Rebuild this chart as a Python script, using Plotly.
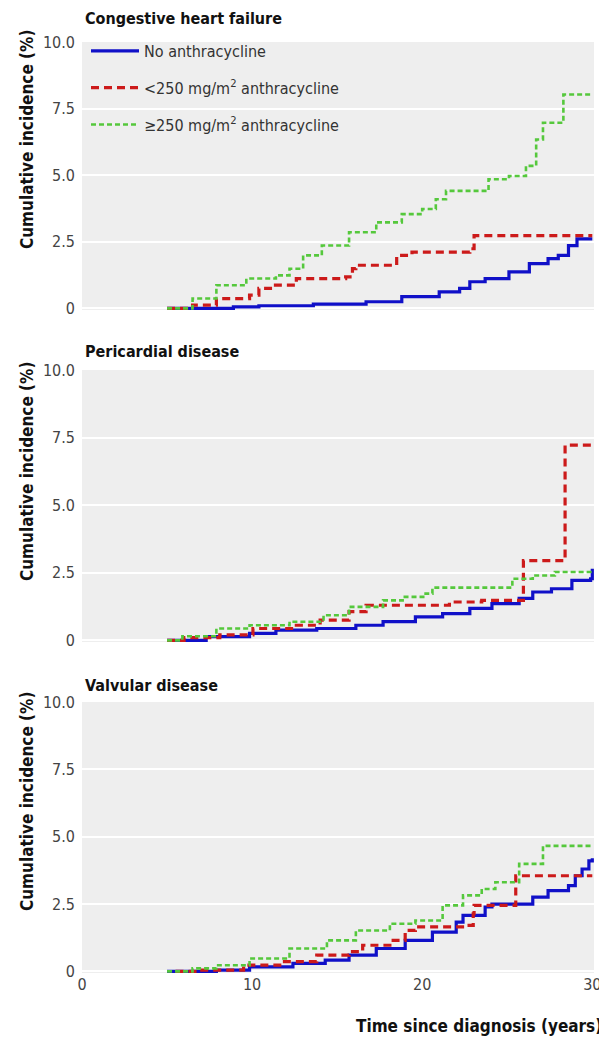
import plotly.graph_objects as go

# ---------------- data ----------------
panel_titles = ["Congestive heart failure", "Pericardial disease", "Valvular disease"]
y_title = "Cumulative incidence (%)"
x_title = "Time since diagnosis (years)"
series_names = ["No anthracycline",
                "&lt;250 mg/m<sup>2</sup> anthracycline",
                "≥250 mg/m<sup>2</sup> anthracycline"]

# Congestive heart failure
chf_none_t = [5.0, 8.9, 10.4, 13.6, 16.7, 18.8, 21.0, 22.2, 22.8, 23.7, 25.1, 26.3, 27.4, 28.0, 28.6, 29.1, 30.0]
chf_none_v = [0.0, 0.06, 0.10, 0.16, 0.25, 0.44, 0.62, 0.75, 1.00, 1.12, 1.37, 1.68, 1.87, 1.99, 2.36, 2.61, 2.61]
chf_low_t = [5.0, 6.3, 6.5, 7.9, 9.85, 10.4, 11.2, 12.6, 15.5, 15.9, 16.1, 18.5, 19.4, 22.8, 23.05, 30.0]
chf_low_v = [0.0, 0.07, 0.12, 0.37, 0.50, 0.75, 0.87, 1.12, 1.18, 1.49, 1.62, 1.99, 2.11, 2.24, 2.73, 2.73]
chf_high_t = [5.0, 6.5, 7.9, 9.66, 11.4, 12.2, 13.0, 14.1, 15.7, 17.3, 18.8, 20.0, 20.8, 21.4, 23.9, 25.1, 26.1, 26.7, 27.1, 28.3, 30.0]
chf_high_v = [0.0, 0.37, 0.87, 1.12, 1.24, 1.49, 1.99, 2.36, 2.86, 3.23, 3.54, 3.73, 4.10, 4.41, 4.85, 4.97, 5.35, 6.34, 6.97, 8.03, 8.03]

# Pericardial disease
per_none_t = [5.0, 7.3, 9.85, 11.4, 13.8, 16.1, 17.7, 19.6, 21.2, 22.8, 24.1, 25.7, 26.5, 27.6, 28.8, 29.9, 30.0]
per_none_v = [0.0, 0.14, 0.26, 0.38, 0.44, 0.56, 0.69, 0.87, 0.99, 1.18, 1.36, 1.55, 1.79, 1.91, 2.22, 2.28, 2.65]
per_low_t = [5.0, 6.0, 8.1, 10.05, 12.6, 14.0, 15.7, 16.7, 21.6, 23.5, 25.95, 28.4, 30.0]
per_low_v = [0.0, 0.10, 0.20, 0.44, 0.56, 0.75, 1.06, 1.30, 1.42, 1.48, 2.95, 7.22, 7.22]
per_high_t = [5.0, 5.9, 7.9, 9.85, 12.2, 14.2, 15.7, 17.7, 18.85, 20.2, 20.6, 25.3, 26.5, 27.8, 30.0]
per_high_v = [0.0, 0.15, 0.44, 0.56, 0.69, 0.93, 1.24, 1.48, 1.61, 1.73, 1.95, 2.28, 2.40, 2.53, 2.53]

# Valvular disease
val_none_t = [5.0, 7.9, 9.85, 12.4, 14.3, 15.7, 17.3, 19.0, 20.6, 22.0, 22.4, 23.7, 24.1, 26.5, 27.4, 28.6, 29.0, 29.4, 29.8, 30.0]
val_none_v = [0.0, 0.05, 0.17, 0.30, 0.42, 0.60, 0.85, 1.15, 1.46, 1.83, 2.08, 2.39, 2.50, 2.76, 3.00, 3.18, 3.55, 3.80, 4.10, 4.20]
val_low_t = [5.5, 6.9, 9.5, 11.8, 13.8, 15.7, 16.5, 18.1, 19.0, 19.6, 22.6, 23.0, 23.05, 25.5, 30.0]
val_low_v = [0.0, 0.05, 0.23, 0.36, 0.60, 0.73, 0.97, 1.15, 1.52, 1.65, 1.71, 2.14, 2.45, 3.55, 3.55]
val_high_t = [5.0, 6.5, 7.9, 9.85, 12.2, 14.4, 16.1, 18.1, 19.6, 21.2, 22.4, 23.5, 24.3, 25.7, 27.1, 30.0]
val_high_v = [0.0, 0.11, 0.23, 0.48, 0.85, 1.15, 1.52, 1.77, 1.89, 2.45, 2.82, 3.06, 3.31, 3.99, 4.66, 4.66]

x_ticks = [0, 10, 20, 30]
y_ticks = [0, 2.5, 5.0, 7.5, 10.0]
y_tick_labels = ["0", "2.5", "5.0", "7.5", "10.0"]

panels = [
    [(chf_none_t, chf_none_v), (chf_low_t, chf_low_v), (chf_high_t, chf_high_v)],
    [(per_none_t, per_none_v), (per_low_t, per_low_v), (per_high_t, per_high_v)],
    [(val_none_t, val_none_v), (val_low_t, val_low_v), (val_high_t, val_high_v)],
]

# ---------------- style ----------------
FONT = "DejaVu Sans Condensed, Roboto, sans-serif"
line_styles = [
    dict(color="#1010c8", width=3.2, dash="solid"),
    dict(color="#cc1a1a", width=3.2, dash="8px,5px"),
    dict(color="#55c83c", width=2.6, dash="5px,3px"),
]

# page has an 8px body margin: figure px = page px - OFF
OFF = 8
W, H = 607 - OFF, 1037 - OFF
ML, MR, MT, MB = 82 - OFF, 13, 42 - OFF, 64
plot_h = H - MT - MB
plot_w = W - ML - MR

def fy(page_y):  # page px -> paper y
    return (H - MB - (page_y - OFF)) / plot_h

def fx(page_x):  # page px -> paper x
    return ((page_x - OFF) - ML) / plot_w

domains = [[fy(310), fy(42)], [fy(642), fy(370)], [fy(973), fy(702)]]
title_px = [18, 351, 685]
ytitle_px = [140, 472, 802]

fig = go.Figure()
for i, panel in enumerate(panels):
    xa = "x" if i == 0 else f"x{i+1}"
    ya = "y" if i == 0 else f"y{i+1}"
    for j, (t, v) in enumerate(panel):
        fig.add_trace(go.Scatter(
            x=t, y=v, mode="lines", line=dict(shape="hv", **line_styles[j]),
            name=series_names[j], showlegend=(i == 0), legendgroup=f"g{j}",
            xaxis=xa, yaxis=ya, hoverinfo="skip"))

layout = dict(
    width=W, height=H, paper_bgcolor="white", plot_bgcolor="#eeeeee",
    margin=dict(l=ML, r=MR, t=MT, b=MB, autoexpand=False),
    font=dict(family=FONT, color="#333333", size=15),
    showlegend=True,
    legend=dict(x=fx(86), y=fy(34), xanchor="left", yanchor="top", bgcolor="rgba(0,0,0,0)",
                font=dict(family=FONT, size=16, color="#333333"), tracegroupgap=13,
                itemwidth=48),
)
for i in range(3):
    sfx = "" if i == 0 else str(i + 1)
    anchor = "y" if i == 0 else f"y{i+1}"
    xanchor_ax = "x" if i == 0 else f"x{i+1}"
    layout["xaxis" + sfx] = dict(
        domain=[0, 1], range=[0, 30.1], anchor=anchor, tickvals=x_ticks,
        showticklabels=(i == 2), showgrid=False, zeroline=False, ticks="",
        tickfont=dict(size=16, color="#444444"), fixedrange=True, automargin=False)
    layout["yaxis" + sfx] = dict(
        domain=domains[i], range=[-0.06, 10.0], anchor=xanchor_ax,
        tickvals=y_ticks, ticktext=y_tick_labels, showgrid=True,
        gridcolor="white", gridwidth=2, zeroline=False, ticks="",
        tickfont=dict(size=16, color="#444444"), ticklabelstandoff=6,
        fixedrange=True, automargin=False)

annotations = []
for i, tt in enumerate(panel_titles):
    annotations.append(dict(
        text=f"<b>{tt}</b>", x=fx(83), y=fy(title_px[i]),
        xref="paper", yref="paper", xanchor="left", yanchor="middle",
        showarrow=False, font=dict(family=FONT, size=16, color="#111111")))
    annotations.append(dict(
        text=f"<b>{y_title}</b>", x=fx(27), y=fy(ytitle_px[i]), textangle=-90,
        xref="paper", yref="paper", xanchor="center", yanchor="middle",
        showarrow=False, font=dict(family=FONT, size=17, color="#111111")))
annotations.append(dict(
    text=f"<b>{x_title}</b>", x=fx(604), y=fy(1026),
    xref="paper", yref="paper", xanchor="right", yanchor="middle", showarrow=False,
    font=dict(family=FONT, size=17, color="#111111")))
layout["annotations"] = annotations

fig.update_layout(**layout)
fig.write_html("out.html")
